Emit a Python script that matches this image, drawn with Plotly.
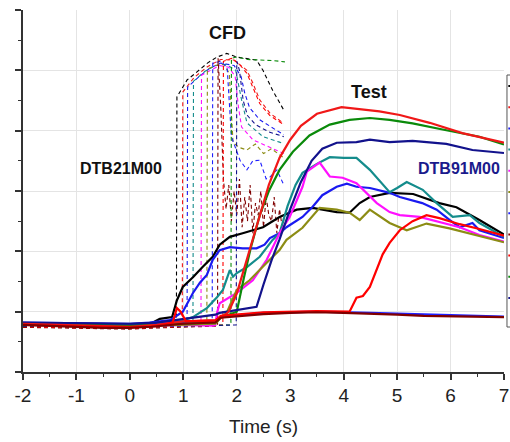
import plotly.graph_objects as go

# ---------------- axis ticks ----------------
x_tick_values = [-2, -1, 0, 1, 2, 3, 4, 5, 6, 7]
x_tick_labels = ["-2", "-1", "0", "1", "2", "3", "4", "5", "6", "7"]
y_tick_values = [0, 1, 2, 3, 4, 5, 6]

# ---------------- colours (legend order) ----------------
legend_colors = ["#000000", "#f01818", "#1a1af0", "#148c8c", "#ff10ff", "#8c8c14",
                 "#2020ff", "#800000", "#ff0000", "#0a8a0a", "#12128c"]

# ---------------- Test (solid) ----------------
test_black_x = [-2, -1, 0, 0.37, 0.56, 0.79, 0.88, 0.99, 1.18, 1.36, 1.55, 1.68, 1.87, 2.11, 2.3, 2.49, 2.8, 3.12, 3.42, 3.87, 4.11, 4.3, 4.49, 4.86, 5.3, 5.79, 6.11, 6.54, 7.0]
test_black_y = [0.8, 0.79, 0.78, 0.79, 0.88, 0.91, 1.19, 1.41, 1.57, 1.74, 1.91, 2.11, 2.24, 2.3, 2.35, 2.4, 2.57, 2.69, 2.72, 2.65, 2.64, 2.8, 2.9, 2.97, 2.95, 2.8, 2.73, 2.52, 2.28]

test_red_x = [-2, -1, 0, 0.5, 1.0, 1.6, 1.75, 1.85, 2.0, 2.2, 2.4, 2.6, 2.8, 3.0, 3.2, 3.5, 3.96, 4.3, 4.67, 5.05, 5.61, 6.22, 7.0]
test_red_y = [0.8, 0.77, 0.75, 0.78, 0.84, 0.86, 0.92, 1.0, 1.3, 1.9, 2.5, 3.1, 3.55, 3.85, 4.08, 4.28, 4.39, 4.36, 4.32, 4.26, 4.13, 3.96, 3.8]

test_blue_x = [-2, -1, 0, 0.37, 0.75, 0.99, 1.08, 1.18, 1.31, 1.44, 1.55, 1.68, 1.87, 2.11, 2.37, 2.52, 2.62, 2.8, 2.93, 3.23, 3.42, 3.6, 3.87, 4.06, 4.24, 4.49, 4.86, 5.05, 5.47, 5.74, 5.98, 6.17, 6.41, 6.54, 7.0]
test_blue_y = [0.82, 0.81, 0.8, 0.82, 0.86, 1.0, 1.14, 1.31, 1.48, 1.61, 1.86, 2.02, 2.07, 2.05, 2.05, 2.11, 2.22, 2.3, 2.4, 2.57, 2.74, 2.93, 3.07, 3.12, 3.07, 3.05, 2.97, 2.9, 2.8, 2.69, 2.52, 2.4, 2.47, 2.35, 2.22]

test_teal_x = [-2, -1, 0, 0.5, 1.0, 1.18, 1.44, 1.63, 1.74, 1.87, 1.93, 2.0, 2.19, 2.43, 2.67, 2.8, 2.95, 3.1, 3.23, 3.5, 3.74, 4.0, 4.24, 4.49, 4.73, 4.86, 5.0, 5.18, 5.48, 5.74, 6.04, 6.36, 6.54, 7.0]
test_teal_y = [0.8, 0.79, 0.77, 0.8, 0.86, 0.91, 1.06, 1.24, 1.36, 1.69, 1.58, 1.64, 1.74, 1.91, 2.19, 2.3, 2.75, 3.1, 3.3, 3.45, 3.56, 3.55, 3.55, 3.35, 3.12, 2.98, 3.05, 3.15, 3.02, 2.8, 2.57, 2.6, 2.47, 2.24]

test_magenta_x = [-2, -1, 0, 0.5, 1.0, 1.55, 1.6, 1.63, 1.68, 2.0, 2.3, 2.56, 2.8, 2.99, 3.23, 3.31, 3.55, 3.74, 3.98, 4.24, 4.43, 4.62, 4.86, 5.05, 5.42, 5.79, 6.17, 6.54, 7.0]
test_magenta_y = [0.79, 0.78, 0.76, 0.77, 0.78, 0.77, 0.78, 0.98, 1.14, 1.31, 1.52, 1.86, 2.3, 2.57, 3.07, 3.32, 3.47, 3.24, 3.22, 3.13, 2.97, 2.8, 2.65, 2.6, 2.57, 2.49, 2.4, 2.27, 2.16]

test_olive_x = [-2, -1, 0, 0.5, 1.0, 1.6, 1.7, 1.81, 2.0, 2.24, 2.56, 2.8, 2.93, 3.23, 3.55, 3.87, 4.11, 4.3, 4.49, 4.86, 5.18, 5.55, 5.98, 6.6, 7.0]
test_olive_y = [0.79, 0.78, 0.76, 0.77, 0.78, 0.8, 0.9, 0.98, 1.36, 1.52, 1.81, 2.02, 2.19, 2.39, 2.72, 2.69, 2.64, 2.52, 2.69, 2.47, 2.35, 2.46, 2.38, 2.24, 2.15]

test_blue2_x = [-2, -1, 0, 0.5, 1.0, 1.6, 1.7, 2.5, 3.5, 4.5, 5.5, 6.5, 7.0]
test_blue2_y = [0.81, 0.8, 0.79, 0.8, 0.83, 0.85, 0.92, 0.98, 1.0, 0.98, 0.95, 0.93, 0.92]

test_darkred_x = [-2, -1.5, -1, -0.5, 0, 0.4, 1.0, 1.6, 1.7, 2.5, 3.0, 3.5, 4.0, 4.5, 5.0, 5.5, 6.0, 6.5, 7.0]
test_darkred_y = [0.78, 0.76, 0.74, 0.73, 0.73, 0.75, 0.8, 0.82, 0.9, 0.96, 0.98, 0.99, 0.98, 0.97, 0.95, 0.93, 0.92, 0.92, 0.91]

test_red2_x = [-2, -1, 0, 0.5, 0.8, 0.88, 0.95, 1.05, 1.6, 1.7, 2.5, 3.5, 4.11, 4.24, 4.36, 4.49, 4.62, 4.73, 4.86, 5.05, 5.29, 5.55, 5.79, 6.17, 6.54, 7.0]
test_red2_y = [0.78, 0.76, 0.74, 0.76, 0.82, 1.06, 1.0, 0.84, 0.85, 0.93, 0.99, 1.01, 1.0, 1.23, 1.26, 1.41, 1.71, 1.95, 2.14, 2.35, 2.5, 2.6, 2.55, 2.45, 2.37, 2.26]

test_green_x = [-2, -1, 0, 0.5, 1.0, 1.6, 1.7, 2.0, 2.13, 2.26, 2.43, 2.6, 2.8, 3.05, 3.36, 3.74, 4.11, 4.49, 4.86, 5.29, 5.85, 6.54, 7.0]
test_green_y = [0.8, 0.79, 0.77, 0.78, 0.8, 0.82, 0.9, 1.0, 1.55, 2.05, 2.6, 3.0, 3.35, 3.65, 3.92, 4.1, 4.18, 4.21, 4.18, 4.12, 4.02, 3.9, 3.77]

test_navy_x = [-2, -1, 0, 0.5, 1.0, 1.6, 1.68, 2.0, 2.37, 2.5, 2.65, 2.8, 3.0, 3.2, 3.4, 3.6, 3.87, 4.24, 4.49, 4.86, 5.29, 5.92, 6.41, 7.0]
test_navy_y = [0.82, 0.81, 0.8, 0.82, 0.88, 0.95, 0.98, 1.03, 1.08, 1.45, 1.85, 2.2, 2.7, 3.15, 3.5, 3.7, 3.8, 3.81, 3.85, 3.81, 3.83, 3.78, 3.68, 3.63]

# ---------------- CFD (dashed) ----------------
cfd_black_x = [-2, -1, 0, 0.5, 0.87, 0.88, 1.07, 1.25, 1.45, 1.63, 1.81, 2.0, 2.37, 2.49, 2.67, 2.88]
cfd_black_y = [0.76, 0.74, 0.73, 0.75, 0.78, 4.56, 4.84, 4.97, 5.12, 5.22, 5.28, 5.22, 5.17, 5.0, 4.67, 4.34]

cfd_red_x = [-2, -1, 0, 0.5, 0.98, 0.99, 1.2, 1.45, 1.7, 1.95, 2.19, 2.3, 2.43, 2.62, 2.8, 2.88]
cfd_red_y = [0.75, 0.73, 0.72, 0.74, 0.78, 4.64, 4.88, 5.06, 5.18, 5.17, 5.0, 4.79, 4.51, 4.29, 4.18, 4.12]

cfd_blue_x = [-2, -1, 0, 0.5, 1.07, 1.08, 1.3, 1.5, 1.7, 1.95, 2.08, 2.15, 2.24, 2.43, 2.8, 2.88]
cfd_blue_y = [0.76, 0.75, 0.74, 0.75, 0.78, 4.72, 4.9, 5.04, 5.12, 5.08, 4.9, 4.62, 4.38, 4.18, 3.98, 3.93]

cfd_teal_x = [-2, -1, 0, 0.5, 1.18, 1.19, 1.4, 1.6, 1.8, 1.98, 2.09, 2.19, 2.49, 2.8, 2.88]
cfd_teal_y = [0.76, 0.75, 0.74, 0.75, 0.78, 4.82, 4.98, 5.08, 5.1, 5.0, 4.51, 4.13, 3.9, 3.81, 3.78]

cfd_magenta_x = [-2, -1, 0, 0.5, 1.33, 1.34, 1.5, 1.68, 1.85, 1.97, 2.03, 2.09, 2.3, 2.75, 2.88]
cfd_magenta_y = [0.76, 0.75, 0.74, 0.75, 0.78, 4.92, 5.0, 5.08, 5.05, 4.9, 4.4, 4.06, 3.85, 3.68, 3.62]

cfd_olive_x = [-2, -1, 0, 0.5, 1.44, 1.45, 1.6, 1.75, 1.86, 1.93, 2.05, 2.19, 2.35, 2.5, 2.65, 2.8, 2.88]
cfd_olive_y = [0.76, 0.75, 0.74, 0.75, 0.78, 5.02, 5.08, 5.1, 4.95, 3.8, 3.72, 3.68, 3.78, 3.62, 3.7, 3.6, 3.55]

cfd_blue2_x = [-2, -1, 0, 0.5, 1.54, 1.55, 1.7, 1.82, 1.9, 2.06, 2.19, 2.3, 2.43, 2.55, 2.62, 2.75, 2.88]
cfd_blue2_y = [0.76, 0.75, 0.74, 0.75, 0.78, 5.12, 5.15, 5.05, 3.9, 3.51, 3.35, 3.5, 3.51, 3.2, 3.23, 3.35, 3.1]

cfd_darkred_x = [-2, -1, 0, 0.5, 1.64, 1.65, 1.7, 1.75, 1.8, 1.85, 1.9, 1.95, 2.0, 2.05, 2.1, 2.15, 2.2, 2.25, 2.3, 2.35, 2.4, 2.45, 2.5, 2.55, 2.6, 2.65, 2.7, 2.75, 2.8, 2.85, 2.9]
cfd_darkred_y = [0.74, 0.72, 0.71, 0.73, 0.76, 5.2, 4.4, 3.2, 2.7, 3.1, 2.5, 3.0, 2.6, 3.2, 2.4, 2.9, 2.5, 3.1, 2.3, 2.8, 2.6, 3.0, 2.4, 2.9, 2.6, 2.5, 2.9, 2.3, 2.7, 2.4, 2.6]

cfd_red2_x = [-2, -1, 0, 0.5, 1.74, 1.75, 1.9, 2.05, 2.19, 2.3, 2.43, 2.62, 2.8, 2.88]
cfd_red2_y = [0.75, 0.73, 0.72, 0.74, 0.78, 5.15, 5.2, 5.1, 4.95, 4.72, 4.45, 4.25, 4.15, 4.1]

cfd_green_x = [-2, -1, 0, 0.5, 1.89, 1.9, 2.0, 2.2, 2.5, 2.7, 2.9]
cfd_green_y = [0.76, 0.75, 0.74, 0.75, 0.78, 5.2, 5.22, 5.18, 5.17, 5.16, 5.14]

cfd_navy_x = [-2, -1, 0, 0.5, 1.99, 2.0, 2.05, 2.12, 2.2, 2.35, 2.6, 2.88]
cfd_navy_y = [0.76, 0.75, 0.74, 0.75, 0.78, 5.15, 5.0, 4.5, 4.25, 4.1, 3.98, 3.9]

cfd_series = [
    (cfd_black_x, cfd_black_y, legend_colors[0]),
    (cfd_red_x, cfd_red_y, legend_colors[1]),
    (cfd_blue_x, cfd_blue_y, legend_colors[2]),
    (cfd_teal_x, cfd_teal_y, legend_colors[3]),
    (cfd_magenta_x, cfd_magenta_y, legend_colors[4]),
    (cfd_olive_x, cfd_olive_y, legend_colors[5]),
    (cfd_blue2_x, cfd_blue2_y, legend_colors[6]),
    (cfd_darkred_x, cfd_darkred_y, legend_colors[7]),
    (cfd_red2_x, cfd_red2_y, legend_colors[8]),
    (cfd_green_x, cfd_green_y, legend_colors[9]),
    (cfd_navy_x, cfd_navy_y, legend_colors[10]),
]

test_series = [
    (test_black_x, test_black_y, legend_colors[0]),
    (test_blue_x, test_blue_y, legend_colors[2]),
    (test_teal_x, test_teal_y, legend_colors[3]),
    (test_magenta_x, test_magenta_y, legend_colors[4]),
    (test_olive_x, test_olive_y, legend_colors[5]),
    (test_blue2_x, test_blue2_y, legend_colors[6]),
    (test_green_x, test_green_y, legend_colors[9]),
    (test_navy_x, test_navy_y, legend_colors[10]),
    (test_red_x, test_red_y, legend_colors[1]),
    (test_red2_x, test_red2_y, legend_colors[8]),
    (test_darkred_x, test_darkred_y, legend_colors[7]),
]

fig = go.Figure()
for xs, ys, c in cfd_series:
    fig.add_trace(go.Scatter(x=xs, y=ys, mode="lines", showlegend=False,
                             line=dict(color=c, width=1.1, dash="4px,3px")))
for xs, ys, c in test_series:
    fig.add_trace(go.Scatter(x=xs, y=ys, mode="lines", showlegend=False,
                             line=dict(color=c, width=2.2)))

font_family = "Arial, Liberation Sans, sans-serif"

annotations = [
    dict(x=1.83, y=5.62, text="<b>CFD</b>", font=dict(size=18, color="#111111")),
    dict(x=4.47, y=4.64, text="<b>Test</b>", font=dict(size=18, color="#111111")),
    dict(x=-0.17, y=3.38, text="<b>DTB21M00</b>", font=dict(size=16, color="#111111")),
    dict(x=6.15, y=3.38, text="<b>DTB91M00</b>", font=dict(size=16, color="#1a1a8c")),
]
for a in annotations:
    a.update(xref="x", yref="y", showarrow=False, xanchor="center", yanchor="middle")
    a["font"]["family"] = font_family

# partially visible legend box at the right edge
shapes = [dict(type="rect", xref="paper", yref="paper", x0=1.0062, x1=1.08,
               y0=0.1243, y1=0.8204, line=dict(color="#555555", width=1),
               fillcolor="white", layer="above")]
for i, c in enumerate(legend_colors):
    yy = (372 - (86 + 21.2 * i)) / 362
    shapes.append(dict(type="line", xref="paper", yref="paper", x0=1.009, x1=1.05,
                       y0=yy, y1=yy, line=dict(color=c, width=2), layer="above"))

fig.update_layout(
    width=510, height=442,
    margin=dict(l=23, r=6, t=10, b=70, autoexpand=False),
    paper_bgcolor="white", plot_bgcolor="white",
    font=dict(family=font_family, color="#222222"),
    annotations=annotations,
    shapes=shapes,
    xaxis=dict(range=[-2, 7], tickvals=x_tick_values, ticktext=x_tick_labels,
               showgrid=True, gridcolor="#e4e4e4", gridwidth=1, zeroline=False,
               showline=True, linecolor="#333333", linewidth=1.5,
               ticks="outside", ticklen=6, tickwidth=1.5, tickcolor="#333333",
               minor=dict(dtick=0.5, ticks="outside", ticklen=3, tickwidth=1.2,
                          tickcolor="#333333", showgrid=False),
               ticklabeloverflow="allow", ticklabelstandoff=-1,
               tickfont=dict(size=19, color="#222222"),
               title=dict(text="Time (s)", font=dict(size=19, color="#222222"), standoff=15)),
    yaxis=dict(range=[0, 6], tickvals=y_tick_values, showticklabels=False,
               showgrid=True, gridcolor="#e4e4e4", gridwidth=1, zeroline=False,
               showline=True, linecolor="#333333", linewidth=1.5,
               ticks="outside", ticklen=6, tickwidth=1.5, tickcolor="#333333",
               minor=dict(dtick=0.5, ticks="outside", ticklen=3, tickwidth=1.2,
                          tickcolor="#333333", showgrid=False)),
)

# remove the browser's default page margin so the 510x442 figure fills the window
fig.write_html("out.html", config={"displayModeBar": False},
               post_script="document.body.style.margin='0';document.body.style.overflow='hidden';")
